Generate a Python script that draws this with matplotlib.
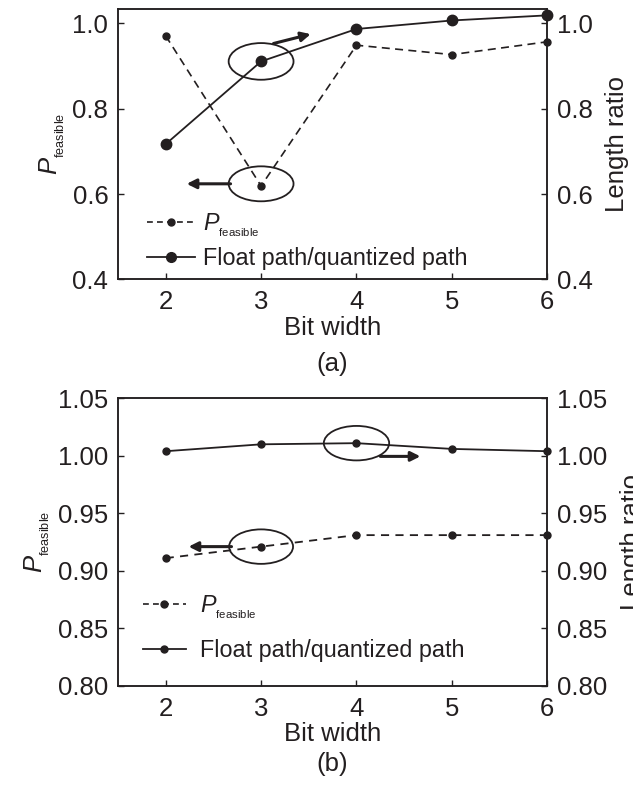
import matplotlib
matplotlib.use("Agg")
import matplotlib.pyplot as plt
from matplotlib.patches import Ellipse
from matplotlib.lines import Line2D

plt.rcParams['font.family'] = ['Liberation Sans', 'DejaVu Sans']
plt.rcParams['mathtext.fontset'] = 'custom'
plt.rcParams['mathtext.it'] = 'Liberation Sans:italic'
plt.rcParams['mathtext.rm'] = 'Liberation Sans'

# ---- data ----
bit_width = [2, 3, 4, 5, 6]
p_feasible_a = [0.971, 0.619, 0.949, 0.927, 0.957]
length_ratio_a = [0.717, 0.911, 0.987, 1.007, 1.019]
p_feasible_b = [0.911, 0.921, 0.931, 0.931, 0.931]
length_ratio_b = [1.004, 1.010, 1.011, 1.006, 1.004]

yticks_a = [0.4, 0.6, 0.8, 1.0]
ytick_labels_a = ['0.4', '0.6', '0.8', '1.0']
yticks_b = [0.80, 0.85, 0.90, 0.95, 1.00, 1.05]
ytick_labels_b = ['0.80', '0.85', '0.90', '0.95', '1.00', '1.05']

P_LABEL = r'$P_{{}_{\mathregular{feasible}}}$'
RATIO_LABEL = 'Float path/quantized path'
INK = '#231f20'
FS = 18.5
LFS = 16.8

fig = plt.figure(figsize=(6.33, 7.88), dpi=100)
ax_a = fig.add_axes([0.1864, 0.6455, 0.6782, 0.3426])
ax_b = fig.add_axes([0.1864, 0.1298, 0.6782, 0.3647])


def style_axes(ax, axr, ylim, yt, ytl):
    for a in (ax, axr):
        a.set_xlim(1.5, 6.0)
        a.set_ylim(*ylim)
        for s in a.spines.values():
            s.set_linewidth(1.1)
            s.set_color(INK)
    ax.set_xticks(bit_width)
    ax.set_xticklabels([str(b) for b in bit_width])
    ax.set_yticks(yt)
    ax.set_yticklabels(ytl)
    axr.set_yticks(yt)
    axr.set_yticklabels(ytl)
    ax.tick_params(axis='both', direction='in', length=4, width=1.0,
                   labelsize=FS, colors=INK, top=False, right=False)
    ax.tick_params(axis='x', pad=8)
    ax.tick_params(axis='y', pad=7)
    axr.tick_params(axis='y', direction='in', length=4, width=1.0,
                    labelsize=FS, colors=INK, pad=7)
    ax.set_xlabel('Bit width', fontsize=FS, color=INK, labelpad=1)
    ax.set_ylabel(P_LABEL, fontsize=FS, color=INK, labelpad=4)
    axr.set_ylabel('Length ratio', fontsize=FS, color=INK, labelpad=9)


def arrow(ax, start, end):
    ax.annotate('', xy=end, xytext=start,
                arrowprops=dict(arrowstyle='-|>', lw=2.2, color=INK,
                                mutation_scale=14, shrinkA=0, shrinkB=0))


# ---- panel (a) ----
axr_a = ax_a.twinx()
style_axes(ax_a, axr_a, (0.4, 1.033), yticks_a, ytick_labels_a)
ax_a.plot(bit_width, p_feasible_a, color=INK, lw=1.2, ls=(0, (4.8, 3.2)),
          marker='o', ms=5, clip_on=False, zorder=3)
axr_a.plot(bit_width, length_ratio_a, color=INK, lw=1.3, ls='-',
           marker='o', ms=7.5, clip_on=False, zorder=3)

ax_a.add_patch(Ellipse((bit_width[1], length_ratio_a[1]), 0.68, 0.086,
                       fill=False, lw=1.3, color=INK))
arrow(ax_a, (3.13, 0.953), (3.52, 0.975))
ax_a.add_patch(Ellipse((bit_width[1], 0.624), 0.68, 0.082,
                       fill=False, lw=1.3, color=INK))
arrow(ax_a, (2.68, 0.624), (2.22, 0.624))

h1 = Line2D([], [], color=INK, lw=1.2, ls=(0, (3.5, 2.5)), marker='o', ms=5)
h2 = Line2D([], [], color=INK, lw=1.3, ls='-', marker='o', ms=7)
ax_a.legend([h1, h2], [P_LABEL, RATIO_LABEL], loc='center left',
            bbox_to_anchor=(0.068, 0.144), frameon=False, fontsize=LFS,
            handlelength=2.05, handletextpad=0.35, labelspacing=0.35,
            borderpad=0, borderaxespad=0, labelcolor=INK)
fig.text(0.5254, (788 - 364) / 788, '(a)', ha='center', va='center',
         fontsize=FS, color=INK)

# ---- panel (b) ----
axr_b = ax_b.twinx()
style_axes(ax_b, axr_b, (0.80, 1.05), yticks_b, ytick_labels_b)
ax_b.plot(bit_width, p_feasible_b, color=INK, lw=1.3, ls=(0, (4.5, 3.5)),
          marker='o', ms=5, clip_on=False, zorder=3)
axr_b.plot(bit_width, length_ratio_b, color=INK, lw=1.3, ls='-',
           marker='o', ms=5, clip_on=False, zorder=3)

ax_b.add_patch(Ellipse((bit_width[2], length_ratio_b[2]), 0.685, 0.030,
                       fill=False, lw=1.3, color=INK))
arrow(ax_b, (4.25, 0.9995), (4.67, 0.9995))
ax_b.add_patch(Ellipse((bit_width[1], p_feasible_b[1]), 0.67, 0.030,
                       fill=False, lw=1.3, color=INK))
arrow(ax_b, (2.69, p_feasible_b[1]), (2.24, p_feasible_b[1]))

h3 = Line2D([], [], color=INK, lw=1.2, ls=(0, (3.5, 2.5)), marker='o', ms=5)
h4 = Line2D([], [], color=INK, lw=1.3, ls='-', marker='o', ms=5)
ax_b.legend([h3, h4], [P_LABEL, RATIO_LABEL], loc='center left',
            bbox_to_anchor=(0.058, 0.2025), frameon=False, fontsize=LFS,
            handlelength=1.85, handletextpad=0.6, labelspacing=0.8,
            borderpad=0, borderaxespad=0, labelcolor=INK)
fig.text(0.5254, (788 - 764) / 788, '(b)', ha='center', va='center',
         fontsize=FS, color=INK)

fig.savefig('out.png', dpi=100)
